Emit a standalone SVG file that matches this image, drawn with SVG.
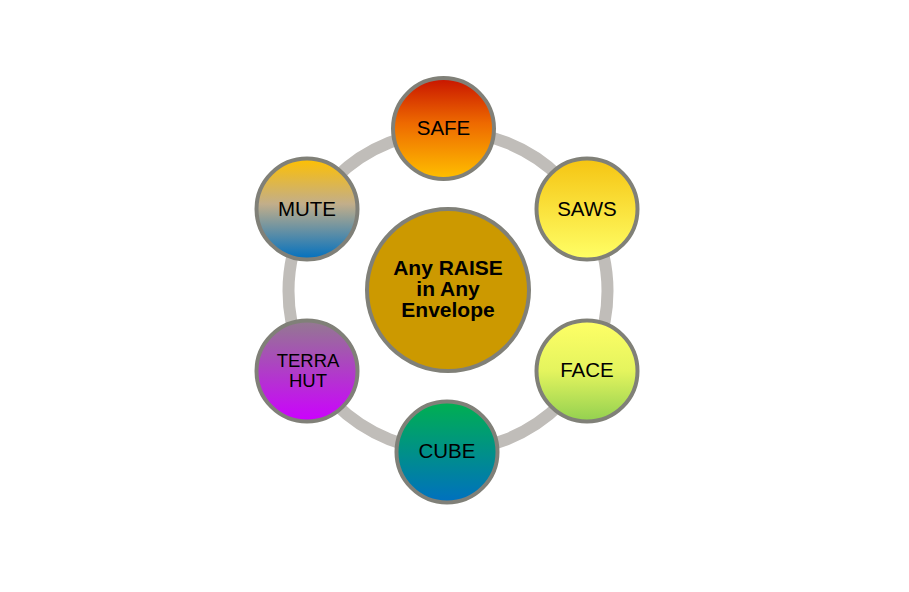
<svg xmlns="http://www.w3.org/2000/svg" width="909" height="592" viewBox="0 0 909 592">
<defs>
<linearGradient id="gSafe" x1="0" y1="0" x2="0" y2="1"><stop offset="0" stop-color="#c81400"/><stop offset="0.45" stop-color="#ee6a00"/><stop offset="1" stop-color="#ffc000"/></linearGradient>
<linearGradient id="gSaws" x1="0" y1="0" x2="0" y2="1"><stop offset="0" stop-color="#f5c412"/><stop offset="1" stop-color="#ffff66"/></linearGradient>
<linearGradient id="gFace" x1="0" y1="0" x2="0" y2="1"><stop offset="0" stop-color="#ffff66"/><stop offset="0.5" stop-color="#e4f45e"/><stop offset="1" stop-color="#92d050"/></linearGradient>
<linearGradient id="gCube" x1="0" y1="0" x2="0" y2="1"><stop offset="0" stop-color="#00b050"/><stop offset="1" stop-color="#0070c0"/></linearGradient>
<linearGradient id="gTerra" x1="0" y1="0" x2="0" y2="1"><stop offset="0" stop-color="#937a90"/><stop offset="1" stop-color="#cc00ff"/></linearGradient>
<linearGradient id="gMute" x1="0" y1="0" x2="0" y2="1"><stop offset="0" stop-color="#ffc000"/><stop offset="0.45" stop-color="#c2ae8a"/><stop offset="1" stop-color="#0070c0"/></linearGradient>
</defs>
<style>
.n{stroke:#808078;stroke-width:4}
.t{font-family:"Liberation Sans",Arial,sans-serif;font-size:20.5px;fill:#000;text-anchor:middle}
.tb{font-family:"Liberation Sans",Arial,sans-serif;font-size:21px;font-weight:bold;fill:#000;text-anchor:middle}
.ts{font-family:"Liberation Sans",Arial,sans-serif;font-size:18.5px;fill:#000;text-anchor:middle}
</style>
<rect width="909" height="592" fill="#fff"/>
<g id="connectors">
<circle cx="448" cy="291" r="159.5" fill="none" stroke="#c0bdb9" stroke-width="12"/>
</g>
<g id="center"><circle class="n" cx="448" cy="290" r="81" fill="#cc9900"/>
<text class="tb" x="448" y="274.5">Any RAISE</text><text class="tb" x="448" y="296">in Any</text><text class="tb" x="448" y="317">Envelope</text></g>
<g id="safe"><circle class="n" cx="443.5" cy="128.5" r="50.5" fill="url(#gSafe)"/><text class="t" x="443.5" y="135">SAFE</text></g>
<g id="saws"><circle class="n" cx="587" cy="209" r="50.5" fill="url(#gSaws)"/><text class="t" x="587" y="216">SAWS</text></g>
<g id="face"><circle class="n" cx="587" cy="371" r="50.5" fill="url(#gFace)"/><text class="t" x="587" y="377">FACE</text></g>
<g id="cube"><circle class="n" cx="447" cy="452" r="50.5" fill="url(#gCube)"/><text class="t" x="447" y="458">CUBE</text></g>
<g id="terra"><circle class="n" cx="307" cy="371" r="50.5" fill="url(#gTerra)"/><text class="ts" x="308" y="367">TERRA</text><text class="ts" x="308" y="387">HUT</text></g>
<g id="mute"><circle class="n" cx="307" cy="209" r="50.5" fill="url(#gMute)"/><text class="t" x="307" y="216">MUTE</text></g>
</svg>
